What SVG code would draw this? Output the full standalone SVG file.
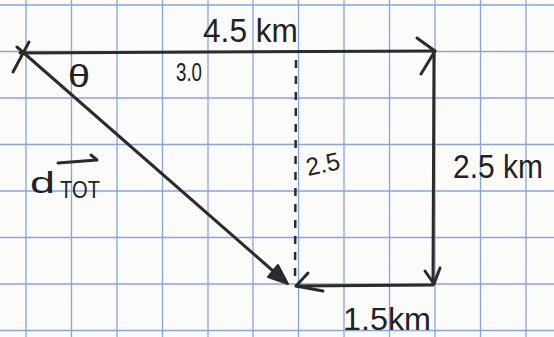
<svg xmlns="http://www.w3.org/2000/svg" width="554" height="337" viewBox="0 0 554 337">
<defs>
<style>
.grid line{stroke:#86a4e0;stroke-width:1.3}
.vec{stroke:#2b2b2b;stroke-width:3;fill:none;stroke-linecap:round;stroke-linejoin:round}
.dash{stroke:#2b2b2b;stroke-width:2.5;fill:none;stroke-dasharray:8 8}
.lbl{font-family:"Liberation Sans",Arial,sans-serif;fill:#222}
</style>
</defs>
<rect width="554" height="337" fill="#fbfbfa"/>
<g class="grid" id="grid">
<line x1="26" y1="0" x2="26" y2="337"/>
<line x1="71.5" y1="0" x2="71.5" y2="337"/>
<line x1="117" y1="0" x2="117" y2="337"/>
<line x1="162.5" y1="0" x2="162.5" y2="337"/>
<line x1="208" y1="0" x2="208" y2="337"/>
<line x1="253" y1="0" x2="253" y2="337"/>
<line x1="298.5" y1="0" x2="298.5" y2="337"/>
<line x1="344" y1="0" x2="344" y2="337"/>
<line x1="389.5" y1="0" x2="389.5" y2="337"/>
<line x1="435" y1="0" x2="435" y2="337"/>
<line x1="480.5" y1="0" x2="480.5" y2="337"/>
<line x1="526" y1="0" x2="526" y2="337"/>
<line x1="0" y1="5" x2="554" y2="5"/>
<line x1="0" y1="51.5" x2="554" y2="51.5"/>
<line x1="0" y1="98" x2="554" y2="98"/>
<line x1="0" y1="144.5" x2="554" y2="144.5"/>
<line x1="0" y1="191" x2="554" y2="191"/>
<line x1="0" y1="237.5" x2="554" y2="237.5"/>
<line x1="0" y1="284" x2="554" y2="284"/>
<line x1="0" y1="330.5" x2="554" y2="330.5"/>
</g>
<g id="connectors">
<path class="vec" d="M13,72 L29,42"/>
<path class="vec" d="M20,53 L435,51"/>
<path class="vec" d="M417,38 L435,51 L421,74"/>
<path class="vec" d="M434,52 L433,284"/>
<path class="vec" d="M425,271 L434,284 L440,268"/>
<path class="vec" d="M433,285 L296,286"/>
<path class="vec" d="M308,273 L296,286 L323,291"/>
<path class="dash" d="M296,60 L295,282"/>
<path class="vec" d="M17,47 L280,277"/>
<path d="M268,277 L278,265 L288,284 Z" fill="#2b2b2b" stroke="#2b2b2b" stroke-width="2" stroke-linejoin="round"/>
<path class="vec" d="M58,163 L97,160 M91,155 L97,160" stroke-width="2"/>
</g>
<g id="labels">
<text class="lbl" x="203" y="42" font-size="34" textLength="95" lengthAdjust="spacingAndGlyphs">4.5 km</text>
<text class="lbl" x="68" y="87" font-size="32" textLength="22" lengthAdjust="spacingAndGlyphs">θ</text>
<text class="lbl" x="176" y="81" font-size="25" textLength="26" lengthAdjust="spacingAndGlyphs">3.0</text>
<text class="lbl" x="308" y="176" font-size="25" textLength="34" lengthAdjust="spacingAndGlyphs" transform="rotate(-12 308 176)">2.5</text>
<text class="lbl" x="453" y="178" font-size="34" textLength="90" lengthAdjust="spacingAndGlyphs">2.5 km</text>
<text class="lbl" x="343" y="330" font-size="32" textLength="88" lengthAdjust="spacingAndGlyphs">1.5km</text>
<text class="lbl" x="30" y="193" font-size="30" textLength="25" lengthAdjust="spacingAndGlyphs">d</text>
<text class="lbl" x="60" y="198" font-size="24" textLength="40" lengthAdjust="spacingAndGlyphs">TOT</text>
</g>
</svg>
